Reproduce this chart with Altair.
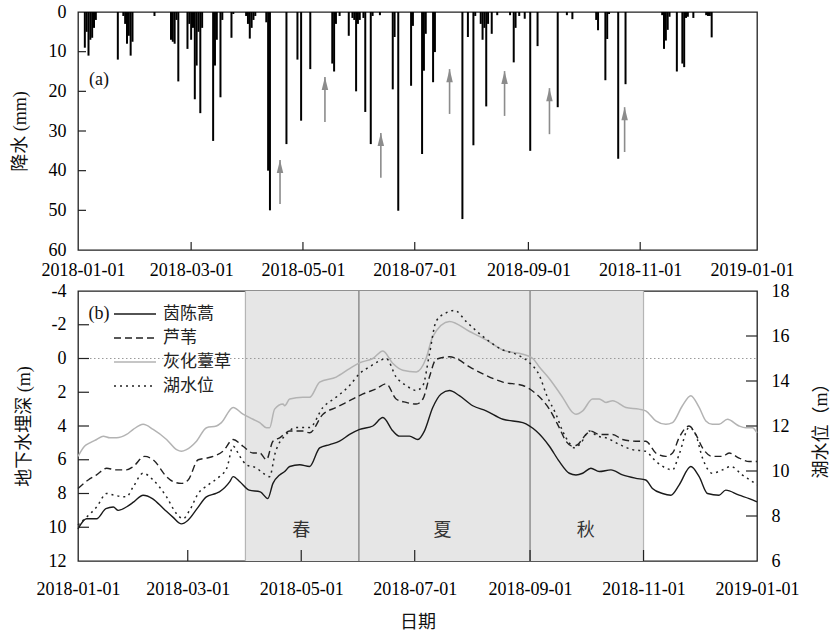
import altair as alt
import pandas as pd

# ---------------- data (days counted from 2018-01-01) ----------------
precip_day = [1, 2, 3, 4, 5, 6, 7, 19, 22, 23, 24, 25, 26, 27, 39, 48, 49, 50, 51, 52,
              57, 58, 59, 60, 61, 62, 63, 64, 65, 71, 72, 73, 75, 76, 81, 82, 89, 90, 91, 92,
              93, 94, 100, 101, 102, 111, 117, 119, 124, 136, 137, 138, 140, 145, 147, 148, 149, 150, 151, 153,
              154, 157, 158, 162, 169, 170, 172, 179, 180, 185, 186, 187, 191, 192, 207, 210, 213, 214, 217, 218,
              219, 220, 221, 223, 226, 233, 235, 236, 238, 241, 244, 248, 259, 264, 267, 280, 281, 285, 286, 287,
              292, 296, 316, 317, 318, 319, 320, 324, 327, 328, 329, 330, 333, 340, 341, 342, 343]
precip_mm = [9, 5, 11, 7, 6.5, 4, 2, 12, 1, 3, 8, 6, 11, 7.5, 1, 7, 7.5, 8, 2, 17.5,
             9.3, 3, 7, 4, 22, 13.5, 5, 25.5, 4, 32.5, 13.5, 7, 21.5, 2, 6.5, 0.5, 1, 3, 6.7, 4,
             2, 1, 2.6, 40, 50, 33.3, 12, 27.4, 14.4, 13, 15, 3, 1, 6, 1.5, 2, 20, 3, 2, 1.5,
             25.2, 33.3, 1, 0.8, 19.5, 6.3, 50.1, 18.6, 3.5, 35.8, 14.8, 5.5, 17.7, 10.1, 52.2, 6.3, 33.6, 1, 3, 7,
             4, 23.8, 3, 5.5, 0.8, 0.8, 12.7, 4, 1, 1.7, 35, 8.6, 24, 0.8, 1.8, 2, 4.6, 17.2, 6.8, 0.5,
             37, 18.2, 0.8, 9.3, 7.2, 4.5, 1.2, 15, 13, 13.9, 1.5, 1.2, 1.5, 0.8, 1, 1, 6.4]

arrow_day = [107.5, 132, 162.5, 200, 230, 254.5, 295.5]
arrow_tail_mm = [48.4, 27.7, 41.8, 25.7, 26.2, 30.8, 35.3]
arrow_tip_mm = [37.3, 16.4, 30.5, 14.4, 14.9, 19.2, 24.0]

# 茵陈蒿 groundwater depth (m)
yc_day = [0, 4.6, 10, 15, 19, 21.6, 26, 30, 35, 40, 46, 51, 55.6, 59, 64, 69, 74, 76, 81.6, 83.4,
          87, 92, 98, 102, 104.8, 108.4, 111.1, 113.8, 119.2, 124.5, 129.9, 135.3, 140.6, 146, 151.4, 158.5, 163.9, 169.3, 172.8, 178.2,
          182.7, 186.2, 190.7, 195.2, 199.7, 205, 212.2, 219.4, 228.4, 239.1, 246.3, 253.4, 258.7, 264.1, 267.7, 271.3, 275.7, 280.2, 286.5, 292.7,
          299.9, 305.2, 308.8, 314.2, 318.7, 323.1, 329.4, 333.9, 338.4, 344.6, 348.2, 355.4, 360.8, 365]
yc_depth = [10.1, 9.5, 9.5, 8.9, 8.8, 9.0, 8.8, 8.5, 8.1, 8.3, 8.9, 9.4, 9.8, 9.6, 8.9, 8.2, 8.0, 7.9, 7.3, 7.0,
            7.3, 7.8, 7.9, 8.3, 7.4, 6.9, 6.7, 6.4, 6.3, 6.4, 5.3, 5.1, 4.9, 4.5, 4.2, 4.0, 3.5, 4.3, 4.6, 4.6,
            4.8, 4.3, 2.9, 2.1, 1.9, 2.2, 2.8, 3.1, 3.6, 3.8, 4.3, 5.2, 6.1, 6.8, 6.9, 6.8, 6.5, 6.7, 6.6, 6.9,
            7.1, 7.2, 7.7, 8.0, 8.1, 7.5, 6.4, 7.0, 8.0, 8.1, 7.8, 8.1, 8.3, 8.5]

# 芦苇 groundwater depth (m)
lw_day = [0, 5.5, 10, 15.4, 20, 26, 29.7, 35.8, 40.4, 47.6, 51.2, 55.6, 59.2, 64.6, 69.1, 72.7, 77.9, 83.4, 88.7, 94.1,
          97.7, 101.3, 104.8, 108.4, 113.8, 120.9, 124.5, 131.7, 138.8, 146, 153.2, 160.3, 165.7, 171, 176.4, 181.8, 185.4, 188.9, 192.5, 199.7,
          203.3, 210.5, 219.4, 228.4, 239.1, 246.3, 253.4, 258.7, 262.3, 265.9, 268.6, 273.1, 275.7, 280.2, 287.4, 292.7, 299.9, 305.2, 310.6, 316,
          319.6, 323.1, 328.5, 332.1, 335.7, 341, 346.4, 350, 355.4, 360.8, 365]
lw_depth = [7.7, 7.2, 6.9, 6.5, 6.6, 6.6, 6.4, 5.8, 6.0, 7.0, 7.3, 7.4, 7.2, 6.0, 5.9, 5.8, 5.5, 4.8, 5.2, 5.6,
            5.6, 6.0, 4.9, 4.7, 4.3, 4.3, 4.4, 3.3, 2.9, 2.5, 2.1, 1.8, 1.5, 2.4, 2.6, 2.7, 2.4, 1.1, 0.05, -0.1,
            0.0, 0.5, 1.0, 1.4, 1.6, 2.1, 3.0, 4.1, 4.9, 5.2, 5.1, 4.5, 4.3, 4.5, 4.5, 4.8, 4.9, 4.9, 5.6, 5.8,
            5.6, 4.7, 4.0, 4.5, 5.3, 5.8, 5.8, 5.6, 5.9, 6.1, 6.1]

# 灰化薹草 groundwater depth (m)
hh_day = [0, 3.5, 6.4, 10, 13.6, 17.2, 20.8, 26.1, 29.7, 35, 40.4, 47.6, 53, 55.6, 58.3, 63.7, 69.1, 74.4, 77.1, 83.4,
          88.7, 94.1, 97.7, 101.3, 103, 105.7, 110.2, 111.1, 113.8, 120.9, 124.5, 129.9, 138.8, 146, 151.4, 158.5, 163.9, 169.3, 174.6, 181.8,
          187.1, 190.7, 199.7, 210.5, 219.4, 228.4, 239.1, 244.5, 248, 253.4, 260.5, 265.9, 267.7, 271.3, 276.6, 280.2, 283.8, 287.4, 294.5, 301.6,
          305.2, 310.6, 316, 319.6, 324.9, 329.4, 333.9, 337.5, 341, 344.6, 349.1, 355.4, 359, 362.5, 365]
hh_depth = [5.8, 5.2, 5.0, 4.8, 4.6, 4.7, 4.7, 4.5, 4.2, 3.9, 4.2, 4.8, 5.4, 5.5, 5.4, 4.9, 4.1, 4.0, 3.8, 2.9,
            3.3, 3.6, 3.8, 4.1, 4.1, 3.0, 2.7, 2.8, 2.4, 2.3, 2.3, 1.4, 1.1, 0.6, 0.25, 0.0, -0.45, 0.3, 0.7, 0.8,
            0.0, -1.3, -2.2, -1.6, -1.1, -0.5, -0.25, 0.0, 0.5, 1.2, 2.3, 3.2, 3.3, 3.1, 2.4, 2.4, 2.6, 2.5, 2.9, 3.0,
            3.1, 3.7, 3.9, 3.8, 2.8, 2.2, 2.9, 3.7, 3.9, 3.9, 3.6, 4.0, 4.1, 4.1, 4.4]

# 湖水位 lake level (m)
lake_day = [0, 4.6, 10, 15.4, 19, 26, 29.7, 35, 40.4, 47.6, 53, 56.5, 60, 64.6, 70, 76, 80, 83.4, 87, 90.5,
            96, 99.5, 103, 106, 112, 117, 124.5, 131.7, 138.8, 146, 151.4, 156.7, 162, 165.7, 171, 176.4, 181.8, 185.4, 188.9, 192.5,
            197.9, 202.4, 208.6, 217.6, 228.4, 235.5, 242.7, 248, 252, 256.9, 260.5, 264.1, 266.8, 270.4, 274.8, 279.3, 283.8, 291, 298, 305,
            310.6, 316, 319.6, 323.1, 328.5, 332, 335.7, 341, 346.4, 351, 357, 362.5, 365]
lake_level = [7.6, 7.95, 8.4, 9.0, 8.93, 8.85, 9.3, 9.9, 9.6, 8.85, 8.1, 7.88, 8.25, 9.0, 9.38, 9.75, 10.13, 11.1, 10.65, 10.28,
              10.13, 9.9, 9.75, 10.8, 11.63, 11.93, 11.93, 12.83, 13.28, 13.8, 14.33, 14.63, 14.89, 15.0, 14.18, 13.8, 13.58, 13.8, 15.19, 16.65,
              17.03, 17.14, 16.65, 15.98, 15.38, 15.19, 14.81, 14.25, 13.35, 12.53, 11.78, 11.25, 11.03, 11.25, 11.78, 11.55, 11.48, 11.18, 10.95, 10.88,
              10.43, 10.13, 10.05, 10.73, 11.93, 11.63, 10.58, 9.9, 10.05, 10.2, 9.83, 9.53, 9.38]

season_start = ["2018-04-01", "2018-06-01", "2018-09-01"]
season_end = ["2018-06-01", "2018-09-01", "2018-11-01"]
season_mid = ["2018-05-01", "2018-07-16", "2018-10-01"]
season_name = ["春", "夏", "秋"]

tick_month = [3, 5, 7, 9, 11]
legend_names = ["茵陈蒿", "芦苇", "灰化薹草", "湖水位"]

# ---------------- helpers ----------------
T0 = pd.Timestamp("2018-01-01")


def to_dates(days):
    return [T0 + pd.Timedelta(days=float(d)) for d in days]


precip_df = pd.DataFrame({"date": to_dates(precip_day), "mm": precip_mm})
arrow_df = pd.DataFrame({"date": to_dates(arrow_day), "tail": arrow_tail_mm, "tip": arrow_tip_mm})
yc_df = pd.DataFrame({"date": to_dates(yc_day), "depth": yc_depth})
lw_df = pd.DataFrame({"date": to_dates(lw_day), "depth": lw_depth})
hh_df = pd.DataFrame({"date": to_dates(hh_day), "depth": hh_depth})
lake_df = pd.DataFrame({"date": to_dates(lake_day), "level": lake_level})
season_df = pd.DataFrame({"start": pd.to_datetime(season_start), "end": pd.to_datetime(season_end),
                          "mid": pd.to_datetime(season_mid), "name": season_name})
tick_df = pd.DataFrame({"date": [pd.Timestamp(2018, m, 1) for m in tick_month]})
one = pd.DataFrame({"k": [0]})

W = 679
H1 = 238
H2 = 270

SERIF = "Liberation Serif"
MIXED = "Liberation Serif, Noto Sans CJK SC"
CJK = "Noto Sans CJK SC"

x_dom = [alt.DateTime(year=2018, month=1, date=1), alt.DateTime(year=2019, month=1, date=1)]
x_vals = [alt.DateTime(year=2018, month=m, date=1) for m in (1, 3, 5, 7, 9, 11)] + \
         [alt.DateTime(year=2019, month=1, date=1)]
xs = alt.Scale(domain=x_dom)

# shared axis definitions (identical in every layer so they merge)
AX_X_TOP = alt.Axis(values=x_vals, format="%Y-%m-%d", labelFlush=False, labelOverlap=False,
                    labelPadding=11, title=None)
AX_X_BOT = alt.Axis(values=x_vals, format="%Y-%m-%d", labelFlush=False, labelOverlap=False,
                    labelPadding=19, title="日期", titlePadding=15)
AX_Y_TOP = alt.Axis(values=list(range(0, 61, 10)), labelPadding=12, title="降水 (mm)", titlePadding=19)
AX_Y_LEFT = alt.Axis(values=list(range(-4, 13, 2)), labelExpr="datum.value + ''", labelPadding=12,
                     title="地下水埋深 (m)", titlePadding=15)
AX_Y_RIGHT = alt.Axis(orient="right", values=list(range(6, 19, 2)), labelPadding=14,
                      title="湖水位（m）", titleAngle=270, titlePadding=41)

# ---------------- panel (a) ----------------
y1s = alt.Scale(domain=[0, 60], reverse=True, nice=False)


def xa(field):
    return alt.X(field, type="temporal", scale=xs, axis=AX_X_TOP)


def ya(field):
    return alt.Y(field, type="quantitative", scale=y1s, axis=AX_Y_TOP)


bars = alt.Chart(precip_df).mark_bar(size=2, color="black").encode(x=xa("date"), y=ya("mm"))
ytick_a = alt.Chart(pd.DataFrame({"v": [10, 20, 30, 40, 50]})).mark_rule(color="#222", strokeWidth=1.2).encode(
    y=ya("v"), x=alt.value(0), x2=alt.value(8))
xtick_a = alt.Chart(tick_df).mark_rule(color="#222", strokeWidth=1.2).encode(
    x=xa("date"), y=alt.value(H1), y2=alt.value(H1 - 8))
arrow_shaft = alt.Chart(arrow_df).mark_rule(color="#8c8c8c", strokeWidth=1.6).encode(
    x=xa("date"), y=ya("tail"), y2="tip:Q")
arrow_head = alt.Chart(arrow_df).mark_point(
    shape="M0,-1L0.5,1L-0.5,1Z", size=170, filled=True, color="#8c8c8c", opacity=1, yOffset=6.5).encode(
    x=xa("date"), y=ya("tip"))
label_a = alt.Chart(one).mark_text(text="(a)", font=SERIF, fontSize=18, color="#111").encode(
    x=alt.value(21), y=alt.value(68))

top = alt.layer(bars, ytick_a, xtick_a, arrow_shaft, arrow_head, label_a).properties(width=W, height=H1)

# ---------------- panel (b) ----------------
y2s = alt.Scale(domain=[-4, 12], reverse=True, nice=False, zero=False)
y3s = alt.Scale(domain=[6, 18], nice=False, zero=False)


def xb(field):
    return alt.X(field, type="temporal", scale=xs, axis=AX_X_BOT)


def yl(field):
    return alt.Y(field, type="quantitative", scale=y2s, axis=AX_Y_LEFT)


def yr(field):
    return alt.Y(field, type="quantitative", scale=y3s, axis=AX_Y_RIGHT)


season_rect = alt.Chart(season_df).mark_rect(color="#e6e6e6").encode(
    x=xb("start"), x2="end:T", y=alt.value(0), y2=alt.value(H2))
bound_light = alt.Chart(pd.DataFrame({"date": pd.to_datetime([season_start[0], season_end[2]])})).mark_rule(
    color="#b5b5b5", strokeWidth=1.2).encode(x=xb("date"), y=alt.value(0), y2=alt.value(H2))
bound_dark = alt.Chart(pd.DataFrame({"date": pd.to_datetime([season_start[1], season_start[2]])})).mark_rule(
    color="#777777", strokeWidth=1.2).encode(x=xb("date"), y=alt.value(0), y2=alt.value(H2))
zero_rule = alt.Chart(pd.DataFrame({"v": [0]})).mark_rule(color="#9a9a9a", strokeWidth=1, strokeDash=[1.5, 2.5]).encode(
    y=yl("v"), x=alt.value(0), x2=alt.value(W))

hh_line = alt.Chart(hh_df).mark_line(color="#b3b3b3", strokeWidth=1.5, interpolate="monotone").encode(
    x=xb("date"), y=yl("depth"))
lw_line = alt.Chart(lw_df).mark_line(color="#222", strokeWidth=1.4, strokeDash=[7, 4], interpolate="monotone").encode(
    x=xb("date"), y=yl("depth"))
yc_line = alt.Chart(yc_df).mark_line(color="#1a1a1a", strokeWidth=1.4, interpolate="monotone").encode(
    x=xb("date"), y=yl("depth"))

ytick_b = alt.Chart(pd.DataFrame({"v": [-2, 0, 2, 4, 6, 8, 10]})).mark_rule(color="#222", strokeWidth=1.2).encode(
    y=yl("v"), x=alt.value(0), x2=alt.value(11))
xtick_b = alt.Chart(tick_df).mark_rule(color="#222", strokeWidth=1.2).encode(
    x=xb("date"), y=alt.value(H2), y2=alt.value(H2 - 11))

season_text = alt.Chart(season_df).mark_text(font=CJK, fontSize=18, color="#333").encode(
    x=xb("mid"), y=alt.value(240), text="name:N")
label_b = alt.Chart(one).mark_text(text="(b)", font=SERIF, fontSize=18, color="#111").encode(
    x=alt.value(21), y=alt.value(23))

legend_rows = [23, 47, 71, 95]
leg_layers = []
leg_styles = [
    dict(color="#1a1a1a", strokeWidth=1.4),
    dict(color="#222", strokeWidth=1.4, strokeDash=[7, 4]),
    dict(color="#b3b3b3", strokeWidth=1.5),
    dict(color="#222", strokeWidth=1.5, strokeDash=[2, 4]),
]
for name, ry, st in zip(legend_names, legend_rows, leg_styles):
    leg_layers.append(alt.Chart(one).mark_rule(**st).encode(
        x=alt.value(36), x2=alt.value(78), y=alt.value(ry)))
    leg_layers.append(alt.Chart(one).mark_text(text=name, font=CJK, fontSize=17, color="#222",
                                               align="left", baseline="middle").encode(
        x=alt.value(85), y=alt.value(ry)))

left_group = alt.layer(season_rect, bound_light, bound_dark, zero_rule, hh_line, lw_line, yc_line,
                       ytick_b, xtick_b, season_text, label_b, *leg_layers)

lake_line = alt.Chart(lake_df).mark_line(color="#222", strokeWidth=1.5, strokeDash=[2, 4], interpolate="monotone").encode(
    x=xb("date"), y=yr("level"))
ytick_r = alt.Chart(pd.DataFrame({"v": [8, 10, 12, 14, 16]})).mark_rule(color="#222", strokeWidth=1.2).encode(
    y=yr("v"), x=alt.value(W), x2=alt.value(W - 11))
right_group = alt.layer(lake_line, ytick_r)

bottom = alt.layer(left_group, right_group).resolve_scale(y="independent").properties(width=W, height=H2)

chart = alt.vconcat(top, bottom, spacing=1).properties(
    padding={"left": 10, "top": 2, "right": 0, "bottom": 0}
).configure_view(stroke="#222", strokeWidth=1.3).configure_axis(
    labelFont=SERIF, labelFontSize=18, labelColor="#000",
    titleFont=MIXED, titleFontSize=18, titleFontWeight="normal", titleColor="#111",
    ticks=False, domain=False, grid=False,
)

chart.save("out.html", embed_options={"renderer": "svg", "actions": False})
